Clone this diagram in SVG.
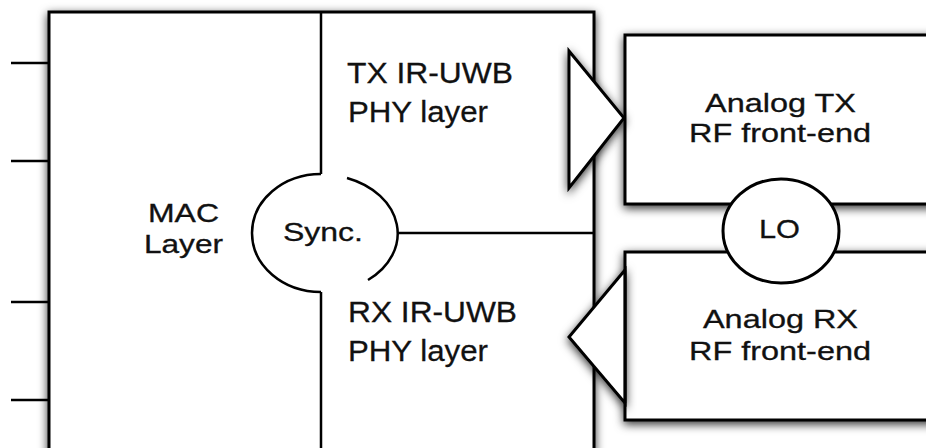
<svg xmlns="http://www.w3.org/2000/svg" width="926" height="448" viewBox="0 0 926 448">
<defs>
<filter id="sh" x="-20%" y="-20%" width="140%" height="140%">
<feDropShadow dx="0" dy="3" stdDeviation="5" flood-color="#000" flood-opacity="0.8"/>
</filter>
</defs>
<style>
.box{fill:#fff;stroke:#000;stroke-width:3}
.ln{fill:none;stroke:#000;stroke-width:2.5}
.t{font-family:"Liberation Sans",Arial,sans-serif;fill:#111;stroke:#111;stroke-width:0.3}
</style>
<rect width="926" height="448" fill="#fff"/>
<g id="mac">
<rect class="box" x="49" y="12" width="545" height="452" filter="url(#sh)"/>
<text class="t" x="148" y="222" font-size="25" textLength="71" lengthAdjust="spacingAndGlyphs">MAC</text>
<text class="t" x="144" y="253" font-size="25" textLength="79" lengthAdjust="spacingAndGlyphs">Layer</text>
</g>
<g id="tx-phy">
<text class="t" x="347" y="83" font-size="30" textLength="166" lengthAdjust="spacingAndGlyphs">TX IR-UWB</text>
<text class="t" x="348" y="122" font-size="30" textLength="140" lengthAdjust="spacingAndGlyphs">PHY layer</text>
</g>
<g id="rx-phy">
<text class="t" x="348" y="322" font-size="30" textLength="169" lengthAdjust="spacingAndGlyphs">RX IR-UWB</text>
<text class="t" x="348" y="361" font-size="30" textLength="140" lengthAdjust="spacingAndGlyphs">PHY layer</text>
</g>
<g id="sync">
<path class="ln" d="M321,174 A69,59 0 0 0 321,292"/>
<path class="ln" d="M347,178 A77,59 0 0 1 368,280"/>
<text class="t" x="283" y="241" font-size="25" textLength="80" lengthAdjust="spacingAndGlyphs">Sync.</text>
</g>
<g id="tx-rf">
<rect class="box" x="625" y="35" width="330" height="169" filter="url(#sh)"/>
<text class="t" x="705" y="112" font-size="25.5" textLength="151" lengthAdjust="spacingAndGlyphs">Analog TX</text>
<text class="t" x="689" y="142" font-size="25.5" textLength="182" lengthAdjust="spacingAndGlyphs">RF front-end</text>
</g>
<g id="rx-rf">
<rect class="box" x="625" y="252" width="330" height="168" filter="url(#sh)"/>
<text class="t" x="703" y="328" font-size="25.5" textLength="155" lengthAdjust="spacingAndGlyphs">Analog RX</text>
<text class="t" x="689" y="360" font-size="25.5" textLength="182" lengthAdjust="spacingAndGlyphs">RF front-end</text>
</g>
<g id="lo">
<ellipse class="box" cx="781" cy="231" rx="58" ry="52" stroke-width="2.5"/>
<text class="t" x="759" y="238" font-size="25.5" textLength="41" lengthAdjust="spacingAndGlyphs">LO</text>
</g>
<g id="connectors">
<path class="ln" d="M11,63 H49 M11,161 H49 M11,302 H49 M11,400 H49"/>
<path class="ln" d="M321,12 V174 M321,292 V448"/>
<path class="ln" d="M398,233 H594"/>
<polygon class="box" points="569,51 624,118 569,188" stroke-width="2.5" filter="url(#sh)"/>
<polygon class="box" points="625,270 569,337 625,403" stroke-width="2.5" filter="url(#sh)"/>
<path class="ln" d="M625,270 V403" stroke-width="3"/>
</g>
</svg>
